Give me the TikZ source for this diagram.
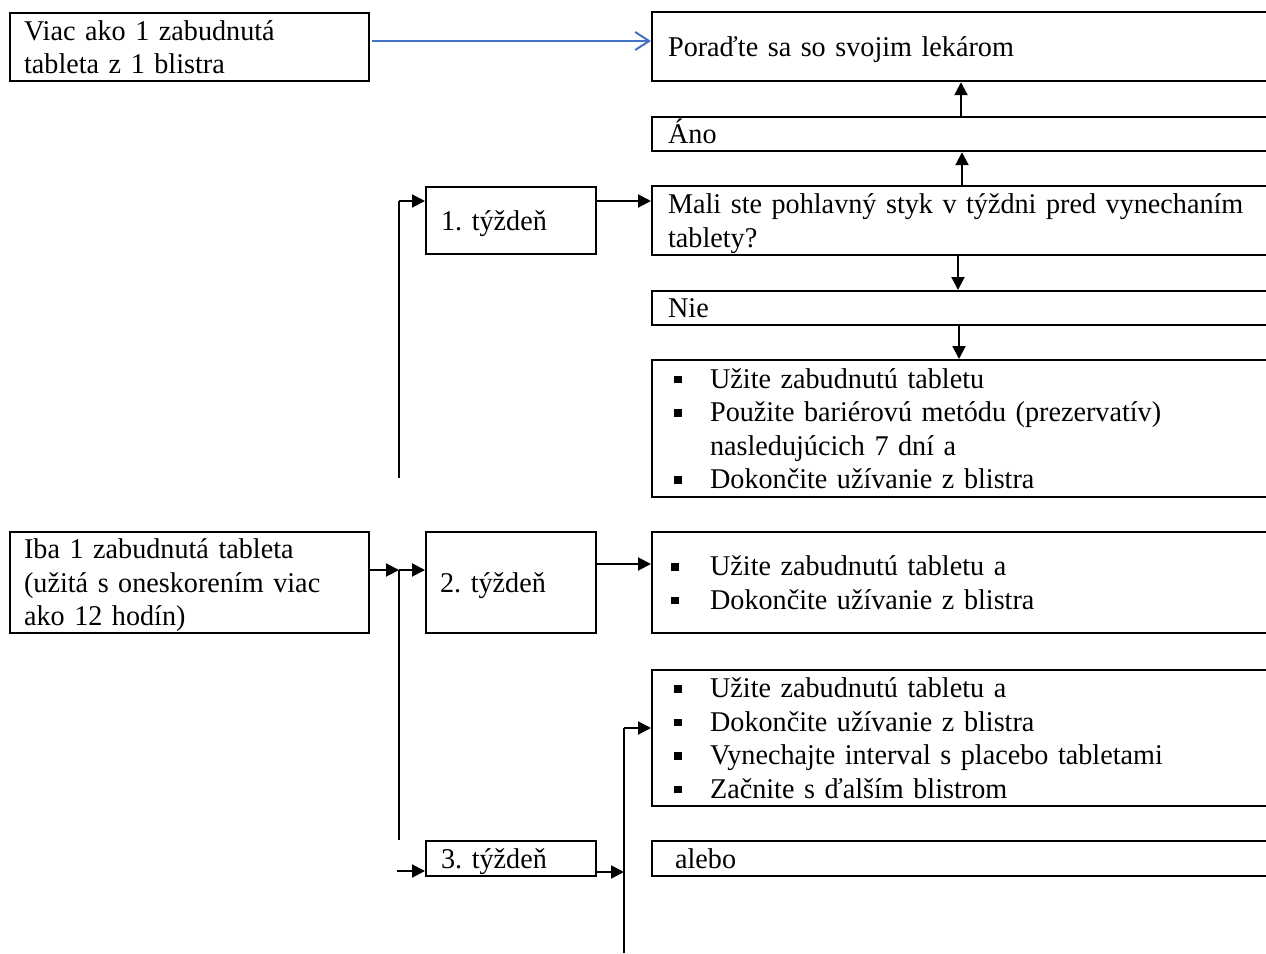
\documentclass[tikz,border=0pt]{standalone}
\usepackage{fontspec}
\setmainfont{Liberation Serif}[WordSpace=0.75,FakeStretch=0.985]
\usetikzlibrary{arrows.meta}
\definecolor{wordblue}{RGB}{68,114,196}
\newcommand\bl{\makebox[18pt][l]{\raisebox{2.4pt}{\rule{3.8pt}{3.8pt}}}}
\newcommand\bcont{\hspace*{18pt}}
\newcommand\mystrut{\rule[-3.5pt]{0pt}{16.75pt}}
\newcommand\bx[7]{%
  \pgfmathsetmacro\bxw{(#4-#2)*0.5}%
  \pgfmathsetmacro\bxh{(#5-#3)*0.5}%
  \pgfmathsetmacro\bxs{#6*0.5}%
  \pgfmathsetmacro\bxt{(#4-#2-2*#6)*0.5}%
  \node[boxst, anchor=north west, inner xsep=\bxs pt, minimum width=\bxw pt,
        minimum height=\bxh pt, text width=\bxt pt] (#1) at (#2,#3) {#7};}
\tikzset{
  boxst/.style={draw, line width=1.1pt, inner ysep=0pt,
    font=\fontsize{14.3}{16.75}\selectfont,
    execute at begin node={\raggedright\frenchspacing\mystrut},
    execute at end node=\mystrut},
  arr/.style={line width=1pt, -{Triangle[length=6.5pt,width=6.5pt]}},
  ln/.style={line width=0.9pt},
}
\begin{document}
\begin{tikzpicture}[x=0.5pt,y=-0.5pt]
\useasboundingbox (0,0) rectangle (1266,954);
\clip (0,0) rectangle (1266,954);
% boxes
\bx{A}{9}{12}{368}{80}{14}{Viac ako 1 zabudnutá\\tableta z 1 blistra}
\bx{B}{651}{11}{1290}{80}{16}{Poraďte sa so svojim lekárom}
\bx{ano}{651}{116}{1290}{150}{16}{Áno}
\bx{mali}{651}{185}{1290}{254}{16}{Mali ste pohlavný styk v týždni pred vynechaním\\tablety?}
\bx{nie}{651}{290}{1290}{323}{16}{Nie}
\bx{bulA}{651}{359}{1290}{496}{22}{\bl Užite zabudnutú tabletu\\\bl Použite bariérovú metódu (prezervatív)\\\bcont nasledujúcich 7 dní a\\\bl Dokončite užívanie z blistra}
\bx{tA}{425}{186}{595}{253}{15}{1. týždeň}
\bx{iba}{9}{531}{368}{632}{14}{Iba 1 zabudnutá tableta\\(užitá s oneskorením viac\\ako 12 hodín)}
\bx{tB}{425}{531}{595}{632}{14}{2. týždeň}
\bx{bulB}{651}{531}{1290}{632}{19}{\makebox[19.5pt][l]{\raisebox{2.4pt}{\rule{3.8pt}{3.8pt}}}Užite zabudnutú tabletu a\\\makebox[19.5pt][l]{\raisebox{2.4pt}{\rule{3.8pt}{3.8pt}}}Dokončite užívanie z blistra}
\bx{bulC}{651}{669}{1290}{805}{22}{\bl Užite zabudnutú tabletu a\\\bl Dokončite užívanie z blistra\\\bl Vynechajte interval s placebo tabletami\\\bl Začnite s ďalším blistrom}
\bx{tC}{425}{840}{595}{875}{15}{3. týždeň}
\bx{alebo}{651}{840}{1290}{875}{23}{alebo}
% helper coordinates
\coordinate (yBlue) at (0,41);
\coordinate (xUpA) at (961,0);
\coordinate (xUpB) at (962,0);
\coordinate (xDnA) at (958,0);
\coordinate (xDnB) at (959,0);
\coordinate (yA) at (0,201);
\coordinate (vAbot) at (399,478);
\coordinate (jA) at (399,570);
\coordinate (vBbot) at (399,840);
\coordinate (sC) at (397,871);
\coordinate (yB) at (0,564);
\coordinate (eC) at (624,872);
\coordinate (vCbot) at (624,953);
\coordinate (yC) at (0,728);
% connectors
\draw[line width=1pt, wordblue, -{Straight Barb[length=7pt,width=9pt,line width=1pt]}]
  ([xshift=1pt]A.east |- yBlue) -- (B.west |- yBlue);
\draw[arr] (ano.north -| xUpA) -- (B.south -| xUpA);
\draw[arr] (mali.north -| xUpB) -- (ano.south -| xUpB);
\draw[arr] (mali.south -| xDnA) -- (nie.north -| xDnA);
\draw[arr] (nie.south -| xDnB) -- (bulA.north -| xDnB);
\draw[arr] (tA.east |- yA) -- (mali.west |- yA);
\draw[ln] (vAbot) -- (vAbot |- yA);
\draw[arr] (vAbot |- yA) -- (tA.west |- yA);
\draw[arr] (iba.east |- jA) -- (jA);
\draw[arr] (jA) -- (tB.west |- jA);
\draw[ln] (jA) -- (vBbot);
\draw[arr] (sC) -- (tC.west |- sC);
\draw[arr] (tB.east |- yB) -- (bulB.west |- yB);
\draw[arr] (tC.east |- eC) -- (eC);
\draw[ln] (vCbot) -- (vCbot |- yC);
\draw[arr] (vCbot |- yC) -- (bulC.west |- yC);
\end{tikzpicture}
\end{document}
